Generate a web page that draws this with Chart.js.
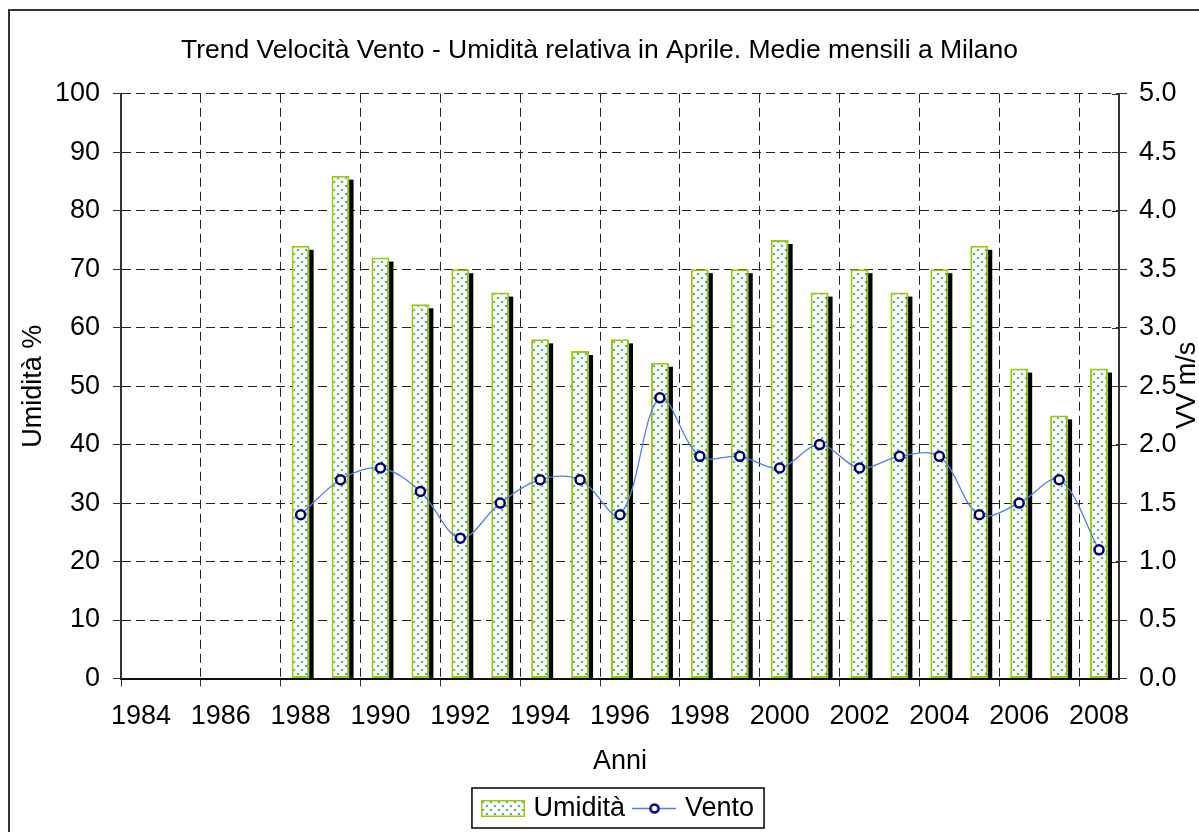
<!DOCTYPE html>
<html lang="it">
<head>
<meta charset="utf-8">
<title>Trend Velocità Vento - Umidità relativa in Aprile</title>
<script src="https://cdn.jsdelivr.net/npm/chart.js@4.4.1/dist/chart.umd.min.js"></script>
<style>
  html, body { margin: 0; padding: 0; background: #fff; }
  canvas { display: block; }
</style>
</head>
<body>
<canvas id="chart" width="1199" height="832"></canvas>
<script>
// ── Data ────────────────────────────────────────────────────────────────────
const TITLE       = 'Trend Velocità Vento - Umidità relativa in Aprile. Medie mensili a Milano';
const X_TITLE     = 'Anni';
const Y_TITLE     = 'Umidità %';
const Y1_TITLE    = 'VV m/s';

const YEARS = ['1984', '1985', '1986', '1987', '1988', '1989', '1990', '1991', '1992',
               '1993', '1994', '1995', '1996', '1997', '1998', '1999', '2000', '2001',
               '2002', '2003', '2004', '2005', '2006', '2007', '2008'];

// relative humidity, % (left axis)
const UMIDITA = [null, null, null, null, 74, 86, 72, 64, 70, 66, 58, 56, 58,
                 54, 70, 70, 75, 66, 70, 66, 70, 74, 53, 45, 53];

// wind speed, m/s (right axis)
const VENTO = [null, null, null, null, 1.4, 1.7, 1.8, 1.6, 1.2, 1.5, 1.7, 1.7, 1.4,
               2.4, 1.9, 1.9, 1.8, 2.0, 1.8, 1.9, 1.9, 1.4, 1.5, 1.7, 1.1];

const Y_MIN = 0,  Y_MAX = 100, Y_STEP = 10;
const Y1_MIN = 0, Y1_MAX = 5,  Y1_STEP = 0.5;

// ── Styles ──────────────────────────────────────────────────────────────────
const FONT   = '"Liberation Sans", Arial, sans-serif';
const AXIS   = '#333';
const GRID   = '#222';
const LIME   = '#99cc00';
const DOT    = '#5ab489';
const HALO   = '#eef7f2';
const LINE   = '#4f7cff';
const MARKER = '#000080';

Chart.defaults.font.family = FONT;
Chart.defaults.font.size   = 27;
Chart.defaults.color       = '#000';

function dotTile() {
  const c = document.createElement('canvas');
  c.width = 8; c.height = 8;
  const g = c.getContext('2d');
  g.fillStyle = '#fff';
  g.fillRect(0, 0, 8, 8);
  for (const [x, y] of [[1, 1], [5, 5]]) {
    g.fillStyle = HALO;
    g.fillRect(x - 1, y - 1, 4, 4);
    g.fillStyle = DOT;
    g.fillRect(x, y, 2, 2);
  }
  return c;
}

const ctx     = document.getElementById('chart').getContext('2d');
const pattern = ctx.createPattern(dotTile(), 'repeat');

// legend swatches
function barSwatch() {
  const c = document.createElement('canvas');
  c.width = 44; c.height = 17;
  const g = c.getContext('2d');
  g.fillStyle = g.createPattern(dotTile(), 'repeat');
  g.fillRect(0, 0, 44, 17);
  g.strokeStyle = LIME;
  g.lineWidth = 1.5;
  g.strokeRect(0.75, 0.75, 42.5, 15.5);
  return c;
}

function lineSwatch() {
  const c = document.createElement('canvas');
  c.width = 44; c.height = 17;
  const g = c.getContext('2d');
  g.strokeStyle = LINE;
  g.lineWidth = 1.5;
  g.beginPath(); g.moveTo(0, 8.5); g.lineTo(44, 8.5); g.stroke();
  g.fillStyle = '#fff';
  g.strokeStyle = MARKER;
  g.lineWidth = 2.5;
  g.beginPath(); g.arc(22, 8.5, 4, 0, Math.PI * 2); g.fill(); g.stroke();
  return c;
}

const SWATCHES = [barSwatch(), lineSwatch()];

// ── Plugins ─────────────────────────────────────────────────────────────────
const frame = {
  id: 'frame',
  beforeDraw(chart) {
    const { ctx, width, height } = chart;
    ctx.save();
    ctx.fillStyle = '#fff';
    ctx.fillRect(0, 0, width, height);
    ctx.strokeStyle = AXIS;
    ctx.lineWidth = 2;
    ctx.beginPath();
    ctx.moveTo(9, height);
    ctx.lineTo(9, 10);
    ctx.lineTo(width, 10);
    ctx.stroke();
    ctx.restore();
  },
};

// black drop shadow behind each bar
const barShadow = {
  id: 'barShadow',
  beforeDatasetDraw(chart, args) {
    if (args.index !== 0) return;
    const { ctx } = chart;
    ctx.save();
    ctx.fillStyle = '#000';
    args.meta.data.forEach((bar, i) => {
      if (UMIDITA[i] == null) return;
      const { x, y, base, width } = bar.getProps(['x', 'y', 'base', 'width'], true);
      ctx.fillRect(x - width / 2 + 4, y + 4, width, base - y - 4);
    });
    ctx.restore();
  },
};

// right axis: ticks cross the axis line, title rotated like the left one
const rightAxisExtras = {
  id: 'rightAxisExtras',
  afterDraw(chart) {
    const { ctx, chartArea, scales } = chart;
    const y1 = scales.y1;
    ctx.save();
    ctx.strokeStyle = AXIS;
    ctx.lineWidth = 1;
    y1.ticks.forEach(t => {
      const py = Math.round(y1.getPixelForValue(t.value)) + 0.5;
      ctx.beginPath();
      ctx.moveTo(y1.left - 7, py);
      ctx.lineTo(y1.left, py);
      ctx.stroke();
    });
    ctx.translate(y1.left + 69, (chartArea.top + chartArea.bottom) / 2 - 1);
    ctx.rotate(-Math.PI / 2);
    ctx.font = `27px ${FONT}`;
    ctx.fillStyle = '#000';
    ctx.textAlign = 'center';
    ctx.textBaseline = 'middle';
    ctx.fillText(Y1_TITLE, 0, 0);
    ctx.restore();
  },
};

// frame around the legend items
const legendFrame = {
  id: 'legendFrame',
  afterDraw(chart) {
    const boxes = chart.legend.legendHitBoxes;
    if (!boxes || !boxes.length) return;
    const { ctx } = chart;
    const left  = Math.min(...boxes.map(b => b.left)) - 14;
    const right = Math.max(...boxes.map(b => b.left + b.width)) + 10;
    const top   = boxes[0].top - 7;
    ctx.save();
    ctx.strokeStyle = '#000';
    ctx.lineWidth = 1.5;
    ctx.strokeRect(left, top, right - left, 40);
    ctx.restore();
  },
};

// ── Chart ───────────────────────────────────────────────────────────────────
new Chart(ctx, {
  data: {
    labels: YEARS,
    datasets: [
      {
        type: 'bar',
        label: 'Umidità',
        data: UMIDITA,
        yAxisID: 'y',
        order: 2,
        backgroundColor: pattern,
        borderColor: LIME,
        borderWidth: 2,
        borderSkipped: false,
        categoryPercentage: 1,
        barPercentage: 0.45,
      },
      {
        type: 'line',
        label: 'Vento',
        data: VENTO,
        yAxisID: 'y1',
        order: 1,
        borderColor: LINE,
        borderWidth: 1.3,
        tension: 0.35,
        pointRadius: 4.5,
        pointBorderWidth: 2.5,
        pointBorderColor: MARKER,
        pointBackgroundColor: '#fff',
      },
    ],
  },
  options: {
    responsive: false,
    animation: false,
    layout: { padding: { top: 10, left: 0, right: 0, bottom: 0 } },
    plugins: {
      title: {
        display: true,
        text: TITLE,
        color: '#000',
        font: { size: 26.5, weight: 'normal' },
        padding: { top: 25, bottom: 27 },
      },
      legend: {
        position: 'bottom',
        fullSize: false,
        maxHeight: 50,
        labels: {
          usePointStyle: true,
          pointStyleWidth: 34,
          padding: 12.5,
          color: '#000',
          generateLabels: chart => chart.data.datasets.map((ds, i) => ({
            text: ds.label,
            pointStyle: SWATCHES[i],
            datasetIndex: i,
            hidden: false,
            fontColor: '#000',
            fillStyle: 'transparent',
            strokeStyle: 'transparent',
            lineWidth: 0,
          })),
        },
      },
      tooltip: { enabled: false },
    },
    scales: {
      x: {
        offset: true,
        grid: {
          offset: true,
          color: c => c.index % 2 === 0 ? GRID : 'transparent',
          tickColor: c => c.index % 2 === 0 ? AXIS : 'transparent',
          tickLength: 8,
          lineWidth: 1,
        },
        border: { color: '#111', width: 2, dash: [9, 5] },
        ticks: {
          autoSkip: false,
          maxRotation: 0,
          minRotation: 0,
          padding: 14,
          callback(v, i) { return i % 2 === 0 ? this.getLabelForValue(v) : ''; },
        },
        title: { display: true, text: X_TITLE, padding: { top: 0, bottom: 5 } },
        afterFit(scale) { scale.height = 104; },
      },
      y: {
        position: 'left',
        min: Y_MIN,
        max: Y_MAX,
        ticks: { stepSize: Y_STEP, padding: 13 },
        grid: {
          color: c => (c.tick && c.tick.value === 0) ? 'transparent' : GRID,
          tickColor: AXIS,
          tickLength: 8,
          lineWidth: 1,
        },
        border: { color: AXIS, width: 2, dash: [9, 5] },
        title: { display: true, text: Y_TITLE, padding: { top: 17, bottom: 0 } },
        afterFit(scale) { scale.width = 121; },
      },
      y1: {
        position: 'right',
        min: Y1_MIN,
        max: Y1_MAX,
        ticks: { stepSize: Y1_STEP, padding: 12, callback: v => v.toFixed(1) },
        grid: { drawOnChartArea: false, tickColor: AXIS, tickLength: 8 },
        border: { color: AXIS, width: 2 },
        afterFit(scale) { scale.width = 80; },
      },
    },
  },
  plugins: [frame, barShadow, rightAxisExtras, legendFrame],
});
</script>
</body>
</html>
